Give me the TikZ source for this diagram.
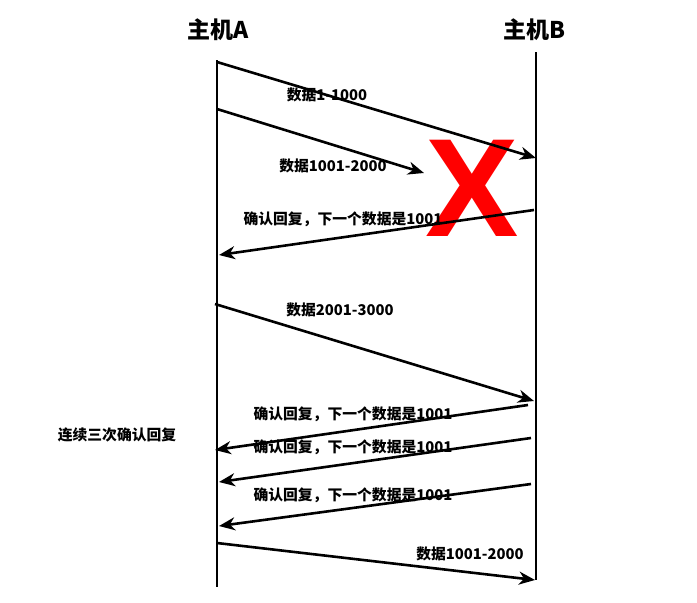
\documentclass[tikz,border=0pt]{standalone}
\usepackage{fontspec}
\setmainfont{Noto Sans CJK SC}
\newfontfamily\xfont{Liberation Sans}
\usetikzlibrary{arrows.meta}
\begin{document}
\begin{tikzpicture}[x=1pt,y=-1pt,
  lifeline/.style={line width=1.4pt,black},
  msg/.style={line width=2.6pt,black,-{Stealth[length=16pt,width=13pt,inset=5pt]}},
  lbl/.style={font=\fontsize{14.8}{16}\selectfont\bfseries,inner sep=0pt},
  title/.style={font=\fontsize{23}{25}\selectfont\bfseries,inner sep=0pt}]
\useasboundingbox (0,0) rectangle (697,603);
% hosts
\node[title] (hA) at (218,30) {主机A};
\node[title] (hB) at (534,30) {主机B};
\coordinate (aT) at (217,60); \coordinate (aB) at (217,587);
\coordinate (bT) at (536,52); \coordinate (bB) at (536,580);
\draw[lifeline] (aT) -- (aB);
\draw[lifeline] (bT) -- (bB);
% red X
\node[text=red,font=\xfont\fontsize{140}{140}\selectfont\bfseries,inner sep=0pt] (lost) at (472,188) {X};
% messages
\coordinate (m1s) at (217,62);  \coordinate (m1e) at (536,158);
\coordinate (m2s) at (217,109); \coordinate (m2e) at (424,173);
\coordinate (m3s) at (534,210); \coordinate (m3e) at (219,255);
\coordinate (m4s) at (215,304); \coordinate (m4e) at (534,401);
\coordinate (m5s) at (528,405); \coordinate (m5e) at (215,450);
\coordinate (m6s) at (531,438); \coordinate (m6e) at (219,482);
\coordinate (m7s) at (531,484); \coordinate (m7e) at (219,526);
\coordinate (m8s) at (217,543); \coordinate (m8e) at (535,580);
\draw[msg] (m1s) -- (m1e);
\draw[msg] (m2s) -- (m2e);
\draw[msg] (m3s) -- (m3e);
\draw[msg] (m4s) -- (m4e);
\draw[msg] (m5s) -- (m5e);
\draw[msg] (m6s) -- (m6e);
\draw[msg] (m7s) -- (m7e);
\draw[msg] (m8s) -- (m8e);
% labels
\node[lbl] (l1) at (327,95) {数据1-1000};
\node[lbl] (l2) at (333,166) {数据1001-2000};
\node[lbl] (l3) at (343,219) {确认回复，下一个数据是1001};
\node[lbl] (l4) at (340,310) {数据2001-3000};
\node[lbl] (l5) at (353,414) {确认回复，下一个数据是1001};
\node[lbl] (l6) at (353,447) {确认回复，下一个数据是1001};
\node[lbl] (l7) at (353,495) {确认回复，下一个数据是1001};
\node[lbl] (l8) at (470,554) {数据1001-2000};
\node[lbl] (l9) at (117,435) {连续三次确认回复};
\end{tikzpicture}
\end{document}
